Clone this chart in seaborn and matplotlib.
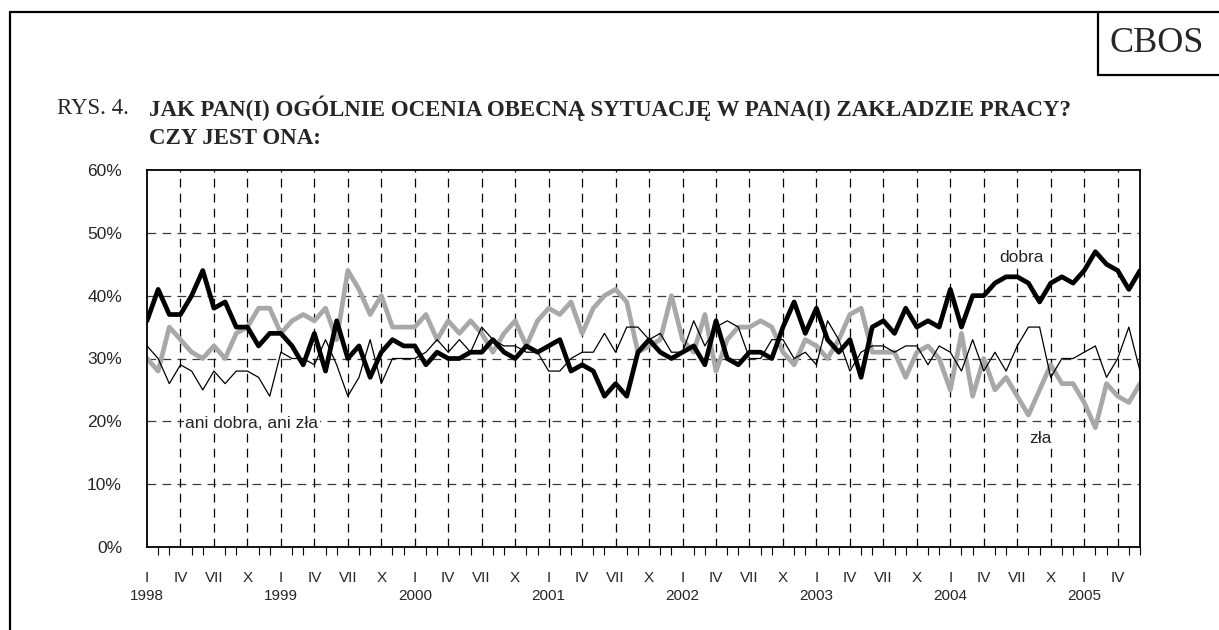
import numpy as np
import pandas as pd
import matplotlib.pyplot as plt
from matplotlib.lines import Line2D
import seaborn as sns

# monthly survey results, I 1998 - VI 2005 (%)
dobra = [36, 41, 37, 37, 40, 44, 38, 39, 35, 35, 32, 34,
         34, 32, 29, 34, 28, 36, 30, 32, 27, 31, 33, 32,
         32, 29, 31, 30, 30, 31, 31, 33, 31, 30, 32, 31,
         32, 33, 28, 29, 28, 24, 26, 24, 31, 33, 31, 30,
         31, 32, 29, 36, 30, 29, 31, 31, 30, 35, 39, 34,
         38, 33, 31, 33, 27, 35, 36, 34, 38, 35, 36, 35,
         41, 35, 40, 40, 42, 43, 43, 42, 39, 42, 43, 42,
         44, 47, 45, 44, 41, 44]
zla = [30, 28, 35, 33, 31, 30, 32, 30, 34, 35, 38, 38,
       34, 36, 37, 36, 38, 33, 44, 41, 37, 40, 35, 35,
       35, 37, 33, 36, 34, 36, 34, 31, 34, 36, 32, 36,
       38, 37, 39, 34, 38, 40, 41, 39, 31, 32, 33, 40,
       33, 31, 37, 28, 33, 35, 35, 36, 35, 31, 29, 33,
       32, 30, 33, 37, 38, 31, 31, 31, 27, 31, 32, 30,
       25, 34, 24, 30, 25, 27, 24, 21, 25, 29, 26, 26,
       23, 19, 26, 24, 23, 26]
ani = [32, 30, 26, 29, 28, 25, 28, 26, 28, 28, 27, 24,
       31, 30, 30, 29, 33, 29, 24, 27, 33, 26, 30, 30,
       30, 31, 33, 31, 33, 31, 35, 33, 32, 32, 31, 31,
       28, 28, 30, 31, 31, 34, 31, 35, 35, 33, 34, 31,
       31, 36, 32, 35, 36, 35, 30, 30, 33, 33, 30, 31,
       29, 36, 33, 28, 31, 32, 32, 31, 32, 32, 29, 32,
       31, 28, 33, 28, 31, 28, 32, 35, 35, 27, 30, 30,
       31, 32, 27, 30, 35, 28]
years = [1998, 1999, 2000, 2001, 2002, 2003, 2004, 2005]
quarters = ['I', 'IV', 'VII', 'X']

df = pd.DataFrame({'m': np.arange(len(dobra)), 'dobra': dobra, 'zla': zla, 'ani': ani})

sns.set_theme(style='white')
plt.rcParams['font.family'] = ['Liberation Sans', 'DejaVu Sans']

fig = plt.figure(figsize=(12.19, 6.30), dpi=100)
ax = fig.add_axes([147/1219, 1 - 547/630, (1140 - 147)/1219, (547 - 170)/630])

sns.lineplot(data=df, x='m', y='zla', color='#a8a8a8', linewidth=3.4, ax=ax)
sns.lineplot(data=df, x='m', y='dobra', color='black', linewidth=3.4, ax=ax)
sns.lineplot(data=df, x='m', y='ani', color='black', linewidth=0.9, ax=ax)

n = len(dobra)
ax.set_xlim(0, n - 1)
ax.set_ylim(0, 60)
ax.set_xlabel('')
ax.set_ylabel('')

ax.set_yticks(range(0, 61, 10))
ax.set_yticklabels([f'{v}%' for v in range(0, 61, 10)], fontsize=12.5)
ax.tick_params(axis='y', length=0, pad=18)

major = list(range(0, n, 3))
ax.set_xticks(major)
ax.set_xticklabels([quarters[(k // 3) % 4] for k in major], fontsize=11)
ax.set_xticks(range(n), minor=True)
ax.tick_params(axis='x', which='major', direction='out', length=10, width=1, color='black', pad=7)
ax.tick_params(axis='x', which='minor', direction='out', length=5.5, width=0.8, color='black', bottom=True)

for j, yr in enumerate(years):
    ax.text(12 * j, -0.131, str(yr), transform=ax.get_xaxis_transform(),
            ha='center', va='center', fontsize=11)

ax.grid(False)
for v in range(10, 60, 10):
    ax.axhline(v, color='#3a3a3a', lw=0.9, ls=(0, (7, 5)), zorder=0)
for k in major[1:]:
    ax.axvline(k, color='black', lw=0.9, ls=(0, (7, 5)), zorder=0)

for s in ax.spines.values():
    s.set_color('black')
    s.set_linewidth(1.3)

box = dict(facecolor='white', edgecolor='none', pad=1)
ax.text(78.4, 46, 'dobra', ha='center', va='center', fontsize=12.5, bbox=box)
ax.text(9.4, 19.6, 'ani dobra, ani zła', ha='center', va='center', fontsize=12.5, bbox=box)
ax.text(80.1, 17.3, 'zła', ha='center', va='center', fontsize=12.5, bbox=box)

# page frame and CBOS box
fig.add_artist(Line2D([10/1219, 1], [1 - 12/630] * 2, color='black', lw=1.6))
fig.add_artist(Line2D([10/1219] * 2, [0, 1 - 12/630], color='black', lw=1.6))
fig.add_artist(Line2D([1098/1219] * 2, [1 - 75/630, 1 - 12/630], color='black', lw=1.6))
fig.add_artist(Line2D([1098/1219, 1], [1 - 75/630] * 2, color='black', lw=1.6))
fig.text(1157/1219, 1 - 44/630, 'CBOS', ha='center', va='center',
         fontsize=26, family='Liberation Serif')

fig.text(57/1219, 1 - 108/630, 'RYS. 4.', ha='left', va='center',
         fontsize=16.5, family='Liberation Serif')
fig.text(149/1219, 1 - 108/630,
         'JAK PAN(I) OGÓLNIE OCENIA OBECNĄ SYTUACJĘ W PANA(I) ZAKŁADZIE PRACY?',
         ha='left', va='center', fontsize=16.5, fontweight='bold', family='Liberation Serif')
fig.text(149/1219, 1 - 138/630, 'CZY JEST ONA:', ha='left', va='center',
         fontsize=16.5, fontweight='bold', family='Liberation Serif')

fig.savefig('out.png', dpi=100, facecolor='white')
